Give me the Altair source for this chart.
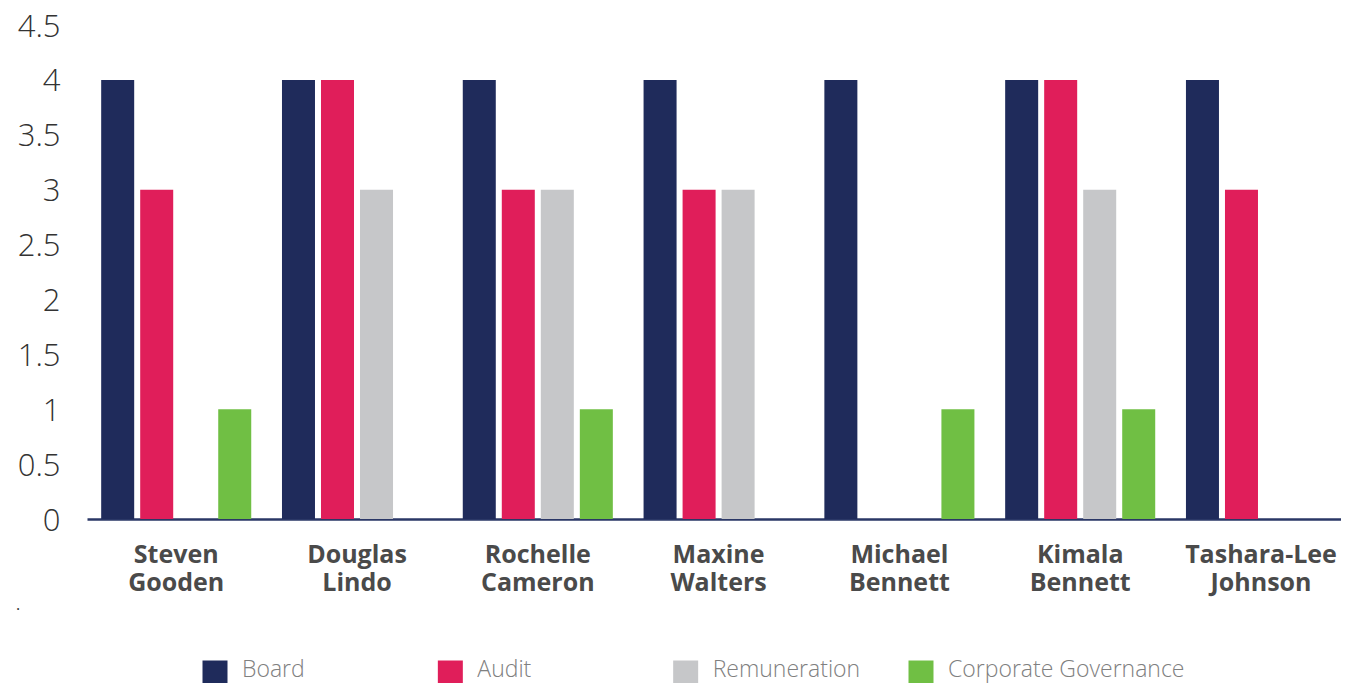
import altair as alt
import pandas as pd

names = ["Steven Gooden", "Douglas Lindo", "Rochelle Cameron", "Maxine Walters",
         "Michael Bennett", "Kimala Bennett", "Tashara-Lee Johnson"]
series = ["Board", "Audit", "Remuneration", "Corporate Governance"]
board = [4, 4, 4, 4, 4, 4, 4]
audit = [3, 4, 3, 3, None, 4, 3]
remuneration = [None, 3, 3, 3, None, 3, None]
governance = [1, None, 1, None, 1, 1, None]
colors = ["#1f2b5b", "#e01e5a", "#c6c7c9", "#70bf44"]

rows = []
for s, vals in zip(series, [board, audit, remuneration, governance]):
    for n, v in zip(names, vals):
        if v is not None:
            rows.append({"name": n, "series": s, "value": v})
df = pd.DataFrame(rows)

FONT = "Open Sans"
color = alt.Color("series:N", scale=alt.Scale(domain=series, range=colors), legend=None)

bars = alt.Chart(df).mark_bar().encode(
    x=alt.X("name:N", sort=names, title=None,
            scale=alt.Scale(paddingInner=0.17, paddingOuter=0.053, align=0.74),
            axis=alt.Axis(labelAngle=0, labelExpr="split(datum.label, ' ')",
                          labelFont=FONT, labelFontSize=25, labelFontWeight="bold",
                          labelColor="#4a4a4a", labelLineHeight=28, labelPadding=23,
                          ticks=False, domainColor="#2a3766", domainWidth=2.5,
                          labelLimit=300)),
    xOffset=alt.XOffset("series:N", sort=series,
                        scale=alt.Scale(domain=series, paddingInner=0.154, paddingOuter=0)),
    y=alt.Y("value:Q", title=None,
            scale=alt.Scale(domain=[0, 4.5], nice=False),
            axis=alt.Axis(values=[0, 0.5, 1, 1.5, 2, 2.5, 3, 3.5, 4, 4.5], format=".1~f",
                          labelFont=FONT, labelFontSize=31, labelFontWeight=300,
                          labelColor="#333333", labelPadding=27, labelOffset=2,
                          domain=False, ticks=False, grid=False)),
    color=color,
)

leg_df = pd.DataFrame({"series": series})
leg_scale = alt.Scale(type="point", domain=series, range=[128, 834], padding=0)
leg_sq = alt.Chart(leg_df).mark_square(size=625, opacity=1).encode(
    x=alt.X("series:N", sort=series, axis=None, scale=leg_scale),
    y=alt.value(648),
    color=color,
)
leg_tx = alt.Chart(leg_df).mark_text(align="left", baseline="middle", dx=27,
                                     font=FONT, fontSize=23, fontWeight=300,
                                     color="#808080").encode(
    x=alt.X("series:N", sort=series, axis=None, scale=leg_scale),
    y=alt.value(645),
    text="series:N",
)

dot = alt.Chart(pd.DataFrame({"t": ["."]})).mark_text(
    align="left", baseline="bottom", fontSize=16, font=FONT, color="#333333"
).encode(x=alt.value(-71), y=alt.value(588), text="t:N")

chart = alt.layer(bars, leg_sq, leg_tx, dot).resolve_scale(x="independent").properties(
    width=1254, height=494,
    autosize=alt.AutoSizeParams(type="none"),
    padding={"left": 79, "top": 17, "right": 0, "bottom": 164},
).configure_view(stroke=None)

chart.save("out.html", embed_options={"renderer": "svg", "actions": False})
